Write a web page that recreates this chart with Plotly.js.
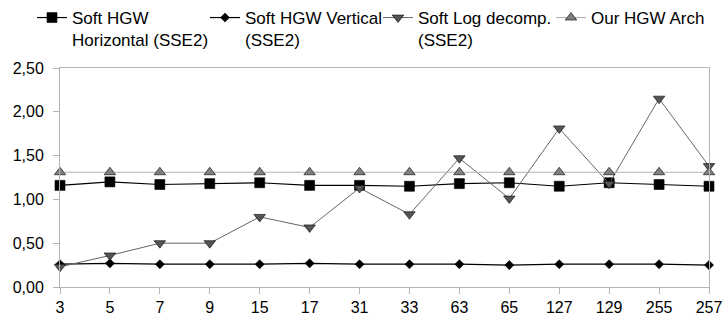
<!DOCTYPE html>
<html>
<head>
<meta charset="utf-8">
<script src="https://cdn.plot.ly/plotly-3.0.1.min.js"></script>
<style>html,body{margin:0;padding:0;background:#fff;}#chart{width:723px;height:317px;}</style>
</head>
<body>
<div id="chart"></div>
<script>
const categories = ['3','5','7','9','15','17','31','33','63','65','127','129','255','257'];
const seriesNames = ['Soft HGW<br>Horizontal (SSE2)', 'Soft HGW Vertical<br>(SSE2)', 'Soft Log decomp.<br>(SSE2)', 'Our HGW Arch'];
const horizontal = [1.16,1.20,1.17,1.18,1.19,1.16,1.16,1.15,1.18,1.19,1.15,1.19,1.17,1.15];
const vertical   = [0.26,0.27,0.26,0.26,0.26,0.27,0.26,0.26,0.26,0.25,0.26,0.26,0.26,0.25];
const logDecomp  = [0.23,0.36,0.50,0.50,0.80,0.68,1.13,0.83,1.47,1.01,1.81,1.18,2.15,1.38];
const ourArch    = [1.31,1.31,1.31,1.31,1.31,1.31,1.31,1.31,1.31,1.31,1.31,1.31,1.31,1.31];
const yTicks = [0, 0.5, 1, 1.5, 2, 2.5];

const styles = [
  {sym:'square', size:10, fill:'#000000', line:'#000000', lw:1.2, leg:'legend'},
  {sym:'diamond', size:7, fill:'#000000', line:'#000000', lw:1.2, leg:'legend'},
  {sym:'triangle-down', size:10, fill:'#555555', line:'#666666', lw:1, leg:'legend'},
  {sym:'triangle-up', size:10, fill:'#808080', line:'#b3b3b3', lw:1.2, leg:'legend2'}
];
const data = [horizontal, vertical, logDecomp, ourArch].map((vals, i) => ({
  type:'scatter', mode:'lines+markers', x:categories, y:vals, name:seriesNames[i],
  cliponaxis:false, legend:styles[i].leg,
  line:{color:styles[i].line, width:styles[i].lw},
  marker:{symbol:styles[i].sym, size:styles[i].size, color:styles[i].fill, line:{color:'#000000', width:0.6}}
}));

const axisCommon = {showline:true, linecolor:'#b3b3b3', linewidth:1, mirror:true, showgrid:false, zeroline:false,
  ticks:'outside', ticklen:6, tickcolor:'#b3b3b3', tickfont:{family:'Liberation Sans, Arial, sans-serif', size:16, color:'#000'}};

const legendFont = {size:17, family:'Liberation Sans, Arial, sans-serif', color:'#000'};
const layout = {
  width:723, height:317,
  margin:{l:60, r:14, t:68, b:30, pad:0},
  paper_bgcolor:'#fff', plot_bgcolor:'#fff',
  separators:',.',
  font:{family:'Liberation Sans, Arial, sans-serif', color:'#000'},
  showlegend:true,
  legend:{orientation:'h', xref:'container', yref:'container', x:32/723, y:1, xanchor:'left', yanchor:'top',
    font:legendFont, entrywidth:128, entrywidthmode:'pixels',
    itemwidth:30, traceorder:'normal', borderwidth:0, valign:'top'},
  legend2:{orientation:'h', xref:'container', yref:'container', x:551/723, y:1, xanchor:'left', yanchor:'top',
    font:legendFont, itemwidth:30, borderwidth:0, valign:'top'},
  xaxis:Object.assign({}, axisCommon, {type:'category', range:[0, categories.length-1], tickmode:'array', tickvals:categories, ticktext:categories}),
  yaxis:Object.assign({}, axisCommon, {range:[0, 2.5], tickmode:'array', tickvals:yTicks, tickformat:'.2f', ticklabelstandoff:6})
};
Plotly.newPlot('chart', data, layout, {displayModeBar:false, staticPlot:true});
</script>
</body>
</html>
